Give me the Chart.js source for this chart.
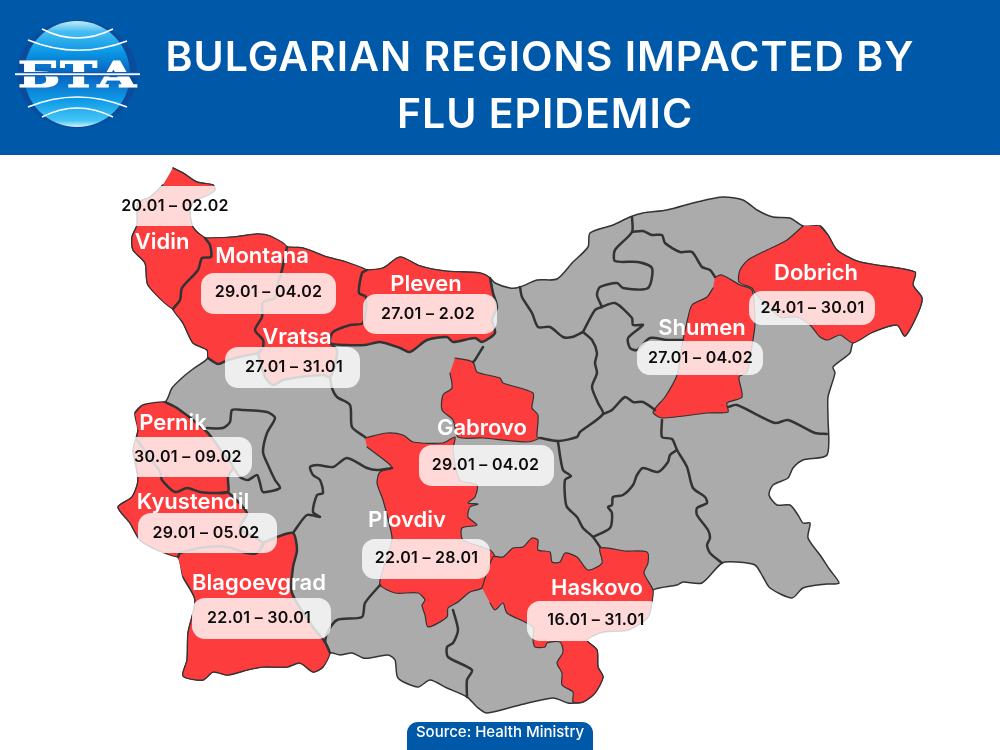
<!DOCTYPE html>
<html>
<head>
<meta charset="utf-8">
<title>Bulgarian regions impacted by flu epidemic</title>
<script src="https://cdn.jsdelivr.net/npm/chart.js@4"></script>
<style>
  html, body { margin: 0; padding: 0; background: #fff; }
  canvas { display: block; }
</style>
</head>
<body>
<canvas id="myChart" width="1000" height="750"></canvas>
<script>
// text
const titleLines = ['BULGARIAN REGIONS IMPACTED BY', 'FLU EPIDEMIC']
const sourceText = 'Source: Health Ministry'
const logoText = 'БТА'
const regionNames = ['Vidin', 'Montana', 'Vratsa', 'Pleven', 'Pernik', 'Kyustendil', 'Blagoevgrad', 'Gabrovo', 'Plovdiv', 'Haskovo', 'Shumen', 'Dobrich']
const dateRanges = ['20.01 – 02.02', '29.01 – 04.02', '27.01 – 31.01', '27.01 – 2.02', '30.01 – 09.02', '29.01 – 05.02', '22.01 – 30.01', '29.01 – 04.02', '22.01 – 28.01', '16.01 – 31.01', '27.01 – 04.02', '24.01 – 30.01']

// map outlines, in map units
const country = [[173,168],[183,173],[197,182],[213,185],[215,190],[208,195],[196,200],[190,208],[192,225],[197,232],[205,238],[233,237],[257,234],[270,236],[287,247],[303,248],[327,257],[343,261],[367,270],[383,268],[400,257],[420,266],[445,271],[480,273],[490,278],[495,283],[510,288],[520,287],[537,280],[557,279],[573,262],[588,247],[590,233],[613,225],[630,217],[643,213],[667,210],[697,202],[723,197],[743,200],[757,210],[773,217],[790,218],[803,226],[820,226],[828,235],[837,250],[860,262],[915,272],[913,285],[922,298],[918,313],[905,336],[897,325],[873,332],[853,343],[850,353],[833,367],[835,373],[828,397],[828,417],[827,455],[803,460],[793,468],[788,478],[773,485],[769,495],[777,505],[790,505],[798,515],[803,523],[810,523],[808,538],[820,555],[830,570],[839,583],[827,584],[803,588],[792,598],[770,588],[763,577],[755,565],[737,562],[722,563],[702,583],[683,582],[677,585],[653,590],[652,602],[648,617],[628,630],[603,632],[587,640],[597,650],[598,667],[603,677],[595,693],[583,702],[575,703],[568,703],[553,698],[520,705],[487,713],[477,707],[467,697],[447,688],[430,680],[418,687],[398,678],[395,660],[388,655],[370,658],[363,658],[352,653],[340,655],[330,653],[323,667],[313,672],[300,663],[287,667],[263,667],[247,670],[228,675],[213,672],[203,680],[183,676],[187,660],[188,633],[195,600],[183,577],[178,557],[157,550],[140,540],[130,523],[118,507],[132,497],[138,480],[133,450],[138,430],[135,413],[143,405],[165,402],[172,388],[183,377],[193,369],[208,358],[207,350],[193,343],[183,323],[172,308],[148,285],[145,263],[133,250],[132,237],[137,225],[138,203],[150,197],[163,185]]
const vidin = [[173,168],[183,173],[197,182],[213,185],[215,190],[208,195],[196,200],[190,208],[192,225],[197,232],[205,238],[210,245],[211,257],[202,258],[198,270],[182,288],[180,300],[173,309],[148,285],[145,263],[133,250],[132,237],[137,225],[138,203],[150,197],[163,185]]
const montana = [[205,238],[233,237],[257,234],[270,236],[287,247],[282,270],[278,283],[275,298],[263,302],[262,317],[255,330],[263,340],[263,347],[258,353],[243,356],[228,360],[218,364],[208,358],[207,350],[193,343],[183,323],[173,309],[180,300],[182,288],[198,270],[202,258],[211,257],[210,245]]
const vratsa = [[287,247],[303,248],[327,257],[343,261],[367,270],[362,273],[359,293],[366,297],[363,323],[350,325],[333,332],[330,343],[337,350],[335,365],[330,377],[323,375],[300,377],[283,380],[273,385],[265,377],[258,353],[263,347],[263,340],[255,330],[262,317],[263,302],[275,298],[278,283],[282,270]]
const pleven = [[367,270],[383,268],[400,257],[420,266],[445,271],[480,273],[490,278],[493,293],[497,307],[492,320],[495,333],[482,342],[475,338],[453,342],[447,337],[427,340],[410,352],[400,348],[380,342],[365,345],[345,345],[330,343],[333,332],[350,325],[363,323],[366,297],[359,293],[362,273]]
const pernik = [[135,413],[143,405],[165,402],[177,408],[207,432],[222,452],[233,467],[228,477],[228,492],[215,493],[200,492],[187,488],[175,492],[162,480],[160,472],[150,458],[137,440],[138,430]]
const kyustendil = [[137,440],[150,458],[160,472],[162,480],[175,492],[187,488],[200,492],[215,493],[228,492],[247,513],[240,528],[263,543],[257,553],[247,553],[227,547],[207,547],[180,553],[178,557],[157,550],[140,540],[130,523],[118,507],[132,497],[138,480],[133,450]]
const blagoevgrad = [[178,557],[180,553],[207,547],[227,547],[247,553],[257,553],[263,543],[277,537],[293,533],[297,550],[293,567],[292,593],[313,627],[325,642],[330,653],[323,667],[313,672],[300,663],[287,667],[263,667],[247,670],[228,675],[213,672],[203,680],[183,676],[187,660],[188,633],[195,600],[183,577]]
const gabrovo = [[455,358],[473,362],[477,372],[500,378],[503,383],[533,393],[532,408],[538,415],[537,437],[540,438],[527,442],[483,438],[458,437],[453,420],[442,410],[443,395],[452,388],[450,373]]
const plovdiv = [[365,438],[387,433],[403,435],[413,442],[443,443],[455,437],[453,450],[460,480],[477,485],[475,497],[468,503],[478,504],[470,507],[468,517],[477,525],[462,528],[463,540],[490,550],[495,557],[493,570],[482,588],[470,592],[458,602],[448,608],[447,617],[428,627],[425,615],[422,605],[425,600],[418,593],[395,593],[380,585],[382,573],[392,540],[390,527],[383,500],[377,483],[380,472],[392,468],[388,463],[367,447]]
const haskovo = [[482,588],[493,557],[503,557],[513,548],[523,547],[532,538],[538,540],[538,550],[550,552],[552,562],[560,562],[565,553],[577,557],[588,570],[602,563],[600,548],[625,551],[647,552],[648,563],[644,573],[653,590],[652,602],[648,617],[628,630],[603,632],[587,640],[597,650],[598,667],[603,677],[595,693],[583,702],[573,702],[573,692],[562,685],[562,673],[557,663],[563,652],[560,642],[547,643],[545,647],[535,647],[533,640],[533,627],[507,613],[503,603],[495,610],[490,603]]
const shumen = [[715,277],[722,275],[740,285],[752,290],[755,323],[753,340],[747,372],[739,377],[742,397],[727,403],[728,412],[707,413],[662,418],[653,412],[665,397],[677,375],[683,340],[687,322],[692,305],[707,297],[713,288]]
const dobrich = [[803,226],[787,240],[767,250],[748,260],[740,270],[739,282],[752,288],[755,293],[780,317],[797,317],[810,325],[820,337],[828,340],[840,335],[853,343],[873,332],[897,325],[905,336],[918,313],[922,298],[913,285],[915,272],[860,262],[837,250],[828,235],[820,226]]
const redRegions = [vidin, montana, vratsa, pleven, pernik, kyustendil, blagoevgrad, gabrovo, plovdiv, haskovo, shumen, dobrich]

// inner borders, in map units
const borderLines = [
  [[205,238],[210,245],[211,257],[202,258],[198,270],[182,288],[180,300],[173,309]],
  [[287,247],[282,270],[278,283],[275,298],[263,302],[262,317],[255,330],[263,340],[263,347],[258,353],[243,356],[228,360],[218,364],[208,358]],
  [[367,270],[362,273],[359,293],[366,297],[363,323],[350,325],[333,332],[330,343],[345,345],[365,345],[380,342],[400,348],[410,352],[427,340],[447,337],[453,342],[475,338],[482,342],[495,333],[492,320],[497,307],[493,293],[490,278]],
  [[330,343],[337,350],[335,365],[330,377],[323,375],[300,377],[283,380],[273,385],[265,377],[258,353]],
  [[330,377],[332,388],[337,397],[350,405],[352,427],[365,437]],
  [[165,402],[177,408],[207,432],[222,452],[233,467],[228,477],[228,492],[215,493],[200,492],[187,488],[175,492],[162,480],[160,472],[150,458],[137,440]],
  [[228,492],[247,513],[240,528],[263,543],[257,553],[247,553],[227,547],[207,547],[180,553],[178,557]],
  [[263,543],[277,537],[293,533],[297,550],[293,567],[292,593],[313,627],[325,642],[330,653]],
  [[207,428],[223,428],[230,422],[232,410],[243,410],[267,412],[275,418],[267,433],[263,452],[268,465],[275,480],[280,488],[263,492],[260,483],[257,475],[248,480],[240,477],[233,467]],
  [[293,533],[307,515],[320,517],[313,512],[317,495],[323,493],[320,480],[313,475],[310,467],[317,465],[333,467],[347,458],[367,468],[377,470],[392,468]],
  [[380,585],[365,603],[362,617],[337,620],[327,633],[325,642]],
  [[453,610],[458,630],[453,643],[447,647],[448,657],[472,670],[467,680],[467,697]],
  [[483,347],[475,360],[473,362]],
  [[520,287],[522,297],[532,313],[538,327],[550,327],[563,337],[572,337],[583,332]],
  [[583,332],[595,310],[602,307],[615,303],[632,318],[633,325],[643,325],[628,338],[630,348],[637,350],[650,338],[667,340],[683,340]],
  [[602,307],[597,295],[600,287],[617,283],[623,288],[648,288],[652,268],[638,262],[615,261],[615,250],[632,232],[632,217]],
  [[632,232],[643,231],[652,235],[662,235],[665,243],[680,252],[692,252],[702,267],[710,270],[715,277]],
  [[583,332],[592,340],[597,353],[595,363],[597,373],[592,387],[598,403],[603,414],[580,432],[577,437],[558,441],[540,438]],
  [[603,414],[612,410],[625,397],[633,402],[643,402],[655,410]],
  [[662,420],[662,437],[672,439],[677,450],[687,467],[693,488],[705,497],[707,503],[697,508],[697,515],[708,530],[710,538],[707,545],[710,553],[722,563]],
  [[677,450],[670,455],[668,462],[658,472],[643,468],[637,475],[633,485],[623,495],[613,497],[612,505],[608,507],[612,513],[610,528],[593,537]],
  [[558,442],[563,470],[571,476],[565,480],[565,497],[567,507],[577,517],[583,528],[593,537],[600,547]],
  [[728,407],[737,405],[775,423],[788,420],[815,433],[827,434]]
]

// where the labels go, same order as regionNames
const nameAnchors = [[162,242],[262,256],[297,337],[426,284],[173,423],[193,502],[259,583],[482,428],[407,520],[597,588],[702,328],[816,273]]
const dateAnchors = [[175,206],[268.5,292],[294,367],[428,314],[188,457],[206,533],[259,618],[485.5,465],[426.5,558],[596,620],[700.5,358],[812.5,308]]
const pillBoxes = [[108,186,134,40],[201,273,135,41],[225,347,135,41],[363,294,134,40],[121,437,131,40],[138,513,139,40],[192,598,139,41],[419,445,135,41],[362,539,128,40],[527,601,135,40],[637,341,126,34],[749,291,126,34]]

const BLUE = '#0059a8'
const RED = '#fd3c3e'
const GREY = '#ababab'
const LINE = '#333333'

function toPoints(list) {
  return list.map(function (p) { return { x: p[0], y: p[1] } })
}

function polyDataset(list, fillColor, width) {
  return {
    data: toPoints(list),
    showLine: true,
    fill: fillColor ? 'shape' : false,
    backgroundColor: fillColor || 'transparent',
    borderColor: LINE,
    borderWidth: width,
    borderJoinStyle: 'round',
    borderCapStyle: 'round',
    tension: 0.25,
    pointRadius: 0,
    clip: false
  }
}

// first in the list is painted last, so reverse at the end
var datasets = []
datasets.push(polyDataset(country, GREY, 1.5))
redRegions.forEach(function (r) { datasets.push(polyDataset(r, RED, 1.2)) })
borderLines.forEach(function (l) { datasets.push(polyDataset(l, null, 2.5)) })
datasets.reverse()

function roundBox(ctx, x, y, w, h, r) {
  ctx.beginPath()
  ctx.roundRect(x, y, w, h, r)
  ctx.fill()
}

function drawLogo(ctx) {
  ctx.fillStyle = '#0a4b9c'
  ctx.beginPath()
  ctx.ellipse(77, 74, 60, 54, 0, 0, Math.PI * 2)
  ctx.fill()

  var g = ctx.createLinearGradient(0, 21, 0, 127)
  g.addColorStop(0, '#c4ebfa')
  g.addColorStop(0.1, '#45bdf2')
  g.addColorStop(0.3, '#0a95e4')
  g.addColorStop(0.5, '#0b60ba')
  g.addColorStop(0.75, '#0e9be8')
  g.addColorStop(0.94, '#45c6f6')
  g.addColorStop(1, '#d5f2fc')
  ctx.fillStyle = g
  ctx.beginPath()
  ctx.arc(77, 74, 53, 0, Math.PI * 2)
  ctx.fill()

  ctx.strokeStyle = '#fff'
  ctx.lineWidth = 1.6
  var arcs = [[42,29,77,47,113,29],[28,40,77,60,127,41],[28,107,77,87,127,107],[42,117,77,99,113,117]]
  arcs.forEach(function (a) {
    ctx.beginPath()
    ctx.moveTo(a[0], a[1])
    ctx.quadraticCurveTo(a[2], a[3], a[4], a[5])
    ctx.stroke()
  })

  ctx.save()
  ctx.font = 'bold 36px "DejaVu Serif"'
  ctx.textAlign = 'center'
  ctx.textBaseline = 'alphabetic'
  ctx.fillStyle = '#fff'
  ctx.strokeStyle = '#fff'
  ctx.lineWidth = 1.2
  var w = ctx.measureText(logoText).width
  ctx.translate(77.5, 87)
  ctx.scale(119 / w, 1)
  ctx.fillText(logoText, 0, 0)
  ctx.strokeText(logoText, 0, 0)
  ctx.restore()

  ctx.fillStyle = '#0b5cb0'
  ctx.fillRect(16, 72, 123, 4.5)
  ctx.fillStyle = '#fff'
  ctx.fillRect(15, 73.3, 125, 1.8)
}

const mapDecor = {
  id: 'mapDecor',
  // header and source tab sit behind the map
  beforeDatasetsDraw: function (chart) {
    var ctx = chart.ctx
    ctx.save()
    ctx.fillStyle = BLUE
    ctx.fillRect(0, 0, 1000, 155)
    ctx.beginPath()
    ctx.roundRect(407, 722, 186, 40, 11)
    ctx.fill()
    drawLogo(ctx)

    ctx.fillStyle = '#fff'
    ctx.textAlign = 'center'
    ctx.textBaseline = 'middle'
    ctx.font = '600 41px Inter'
    ctx.letterSpacing = '1px'
    ctx.fillText(titleLines[0], 540, 59)
    ctx.fillText(titleLines[1], 545, 116)
    ctx.letterSpacing = '0px'
    ctx.font = '500 15px Inter'
    ctx.fillText(sourceText, 500, 732)
    ctx.restore()
  },
  afterDatasetsDraw: function (chart) {
    var ctx = chart.ctx
    var xs = chart.scales.x
    var ys = chart.scales.y
    ctx.save()
    ctx.textAlign = 'center'
    ctx.textBaseline = 'middle'
    pillBoxes.forEach(function (b) {
      ctx.fillStyle = 'rgba(255,255,255,0.8)'
      roundBox(ctx, xs.getPixelForValue(b[0]), ys.getPixelForValue(b[1]), b[2], b[3], 13)
    })
    ctx.fillStyle = '#0c0c0c'
    ctx.font = '600 16px Inter'
    ctx.letterSpacing = '0.3px'
    dateRanges.forEach(function (d, i) {
      ctx.fillText(d, xs.getPixelForValue(dateAnchors[i][0]), ys.getPixelForValue(dateAnchors[i][1]))
    })
    ctx.letterSpacing = '0px'
    ctx.fillStyle = '#fff'
    ctx.font = '600 22px Inter'
    regionNames.forEach(function (name, i) {
      ctx.fillText(name, xs.getPixelForValue(nameAnchors[i][0]), ys.getPixelForValue(nameAnchors[i][1]))
    })
    ctx.restore()
  }
}

var ctx = document.getElementById('myChart').getContext('2d')
var chart = new Chart(ctx, {
  type: 'scatter',
  data: { datasets: datasets },
  plugins: [mapDecor],
  options: {
    responsive: false,
    animation: false,
    layout: { padding: 0 },
    plugins: { legend: { display: false }, title: { display: false }, tooltip: { enabled: false } },
    scales: {
      x: { type: 'linear', min: 0, max: 1000, display: false },
      y: { type: 'linear', min: 0, max: 750, reverse: true, display: false }
    }
  }
})
</script>
</body>
</html>
